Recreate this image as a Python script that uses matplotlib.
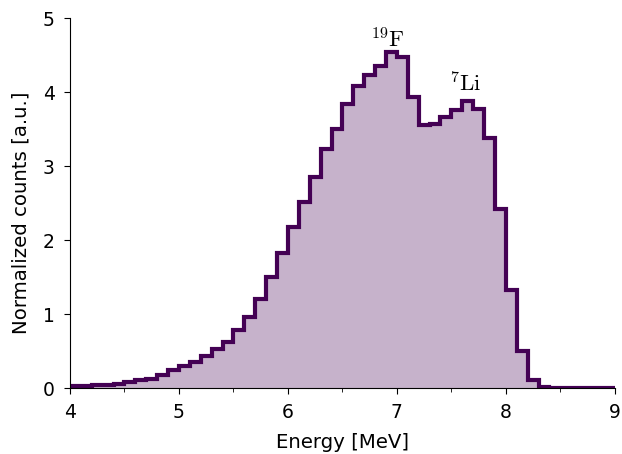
import numpy as np
import matplotlib
matplotlib.use("Agg")
import matplotlib.pyplot as plt

plt.rcParams['mathtext.fontset'] = 'cm'

bin_edges = np.round(np.arange(4.0, 9.0001, 0.1), 2)
counts = [0.03, 0.035, 0.04, 0.045, 0.055, 0.08, 0.115, 0.13, 0.18, 0.24,
          0.30, 0.36, 0.43, 0.53, 0.63, 0.79, 0.96, 1.21, 1.50, 1.82,
          2.18, 2.52, 2.85, 3.23, 3.50, 3.84, 4.09, 4.23, 4.36, 4.54,
          4.47, 3.93, 3.56, 3.57, 3.67, 3.76, 3.88, 3.77, 3.38, 2.42,
          1.32, 0.50, 0.11, 0.01, 0.005, 0.005, 0.005, 0.005, 0.005, 0.005]
labels = [r'$^{19}\mathrm{F}$', r'$^{7}\mathrm{Li}$']
label_x = [6.915, 7.63]
label_y = [4.61, 4.01]

color = '#440154'

fig = plt.figure(figsize=(6.22, 4.54), dpi=100)
ax = fig.add_axes([0.1125, 0.145, 0.876, 0.815])
ax.stairs(counts, bin_edges, fill=True, color=color, alpha=0.3, linewidth=0)
ax.stairs(counts, bin_edges, color=color, linewidth=3)

for t, x, y in zip(labels, label_x, label_y):
    ax.text(x, y, t, ha='center', va='baseline', fontsize=16.5)

ax.set_xlim(4, 9)
ax.set_ylim(0, 5)
ax.set_xticks([4, 5, 6, 7, 8, 9])
ax.set_xticks(np.arange(4.5, 9, 1.0), minor=True)
ax.set_yticks([0, 1, 2, 3, 4, 5])
ax.spines['top'].set_visible(False)
ax.spines['right'].set_visible(False)
ax.tick_params(labelsize=13.5, length=4.5, pad=6.5)
ax.tick_params(which='minor', length=3)
ax.set_xlabel('Energy [MeV]', fontsize=14.2)
ax.set_ylabel('Normalized counts [a.u.]', fontsize=14.2)
ax.xaxis.set_label_coords(0.5, -0.12)
ax.xaxis.label.set_verticalalignment('top')
ax.yaxis.set_label_coords(-0.073, 0.473)

fig.savefig('out.png', dpi=100)
